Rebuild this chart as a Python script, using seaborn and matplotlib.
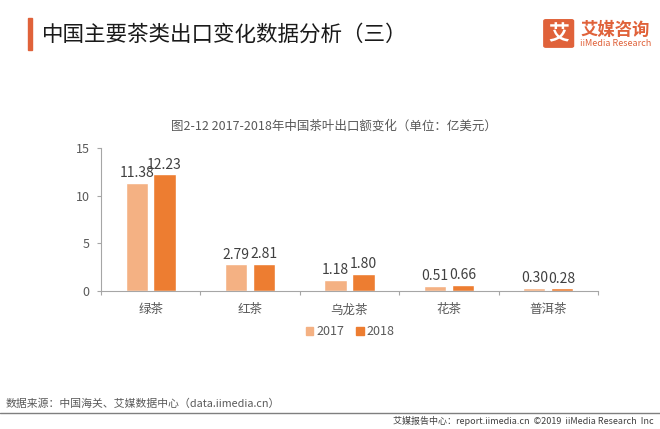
import matplotlib
matplotlib.use("Agg")
import matplotlib.pyplot as plt
from matplotlib.patches import FancyBboxPatch, Rectangle
import pandas as pd
import seaborn as sns

categories = ["绿茶", "红茶", "乌龙茶", "花茶", "普洱茶"]
years = ["2017", "2018"]
values_2017 = [11.38, 2.79, 1.18, 0.51, 0.30]
values_2018 = [12.23, 2.81, 1.80, 0.66, 0.28]
yticks = [0, 5, 10, 15]

df = pd.DataFrame({
    "茶类": categories * 2,
    "年份": [years[0]] * len(categories) + [years[1]] * len(categories),
    "金额": values_2017 + values_2018,
})

sns.set_style("white")
plt.rcParams["font.family"] = ["Noto Sans CJK SC", "DejaVu Sans"]

fig = plt.figure(figsize=(6.6, 4.29), dpi=100)
ax = fig.add_axes([0.153, 0.3217, 0.753, 0.3333])

colors = ["#F4B183", "#ED7D31"]
sns.barplot(data=df, x="茶类", y="金额", hue="年份", palette=colors,
            saturation=1, width=0.56, gap=0.2, ax=ax, legend=False)

for cont in ax.containers:
    ax.bar_label(cont, fmt="%.2f", padding=2, fontsize=10, color="#404040")

ax.set_xlim(-0.5, len(categories) - 0.5)
ax.set_ylim(0, 15)
ax.set_yticks(yticks)
ax.set_xlabel("")
ax.set_ylabel("")

gray = "#A6A6A6"
for s in ["top", "right"]:
    ax.spines[s].set_visible(False)
ax.spines["left"].set_color(gray)
ax.spines["bottom"].set_color(gray)
ax.spines["left"].set_linewidth(0.8)
ax.spines["bottom"].set_linewidth(0.8)

ax.tick_params(axis="y", length=3, width=0.8, color=gray, labelsize=9,
               labelcolor="#595959", pad=5, left=True)
ax.tick_params(axis="x", which="major", length=0, labelsize=9,
               labelcolor="#595959", pad=9)
ax.set_xticks([i + 0.5 for i in range(-1, len(categories))], minor=True)
ax.tick_params(axis="x", which="minor", length=3, width=0.8, color=gray,
               bottom=True)

# legend
for i, (yr, c) in enumerate(zip(years, colors)):
    x0 = 0.463 + i * 0.077
    fig.patches.append(Rectangle((x0, 0.219), 0.011, 0.018, color=c,
                                 transform=fig.transFigure, figure=fig))
    fig.text(x0 + 0.016, 0.228, yr, fontsize=9, color="#595959",
             va="center", ha="left")

# subtitle
fig.text(0.506, 0.705, "图2-12 2017-2018年中国茶叶出口额变化（单位：亿美元）",
         fontsize=9, color="#595959", ha="center", va="center")

# header
fig.patches.append(Rectangle((0.042, 0.883), 0.006, 0.075, color="#E0623A",
                             transform=fig.transFigure, figure=fig))
fig.text(0.063, 0.918, "中国主要茶类出口变化数据分析（三）", fontsize=15.5,
         color="#1a1a1a", ha="left", va="center", fontweight="medium")

# logo
fig.patches.append(FancyBboxPatch((0.827, 0.893), 0.039, 0.058,
                                  boxstyle="round,pad=0.003",
                                  color="#E0623A", transform=fig.transFigure,
                                  figure=fig))
fig.text(0.8465, 0.922, "艾", fontsize=15, color="white", ha="center",
         va="center", fontweight="bold")
fig.text(0.879, 0.931, "艾媒咨询", fontsize=12.5, color="#E0623A", ha="left",
         va="center", fontweight="bold")
fig.text(0.879, 0.898, "iiMedia Research", fontsize=6.5, color="#E0623A",
         ha="left", va="center")

# footer
fig.text(0.008, 0.058, "数据来源：中国海关、艾媒数据中心（data.iimedia.cn）",
         fontsize=7.8, color="#595959", ha="left", va="center")
fig.lines.append(plt.Line2D([0, 1], [0.037, 0.037], color="#7f7f7f",
                            linewidth=1, transform=fig.transFigure))
fig.text(0.99, 0.018, "艾媒报告中心：report.iimedia.cn  ©2019  iiMedia Research  Inc",
         fontsize=6.5, color="#404040", ha="right", va="center")

fig.savefig("out.png", dpi=100)
